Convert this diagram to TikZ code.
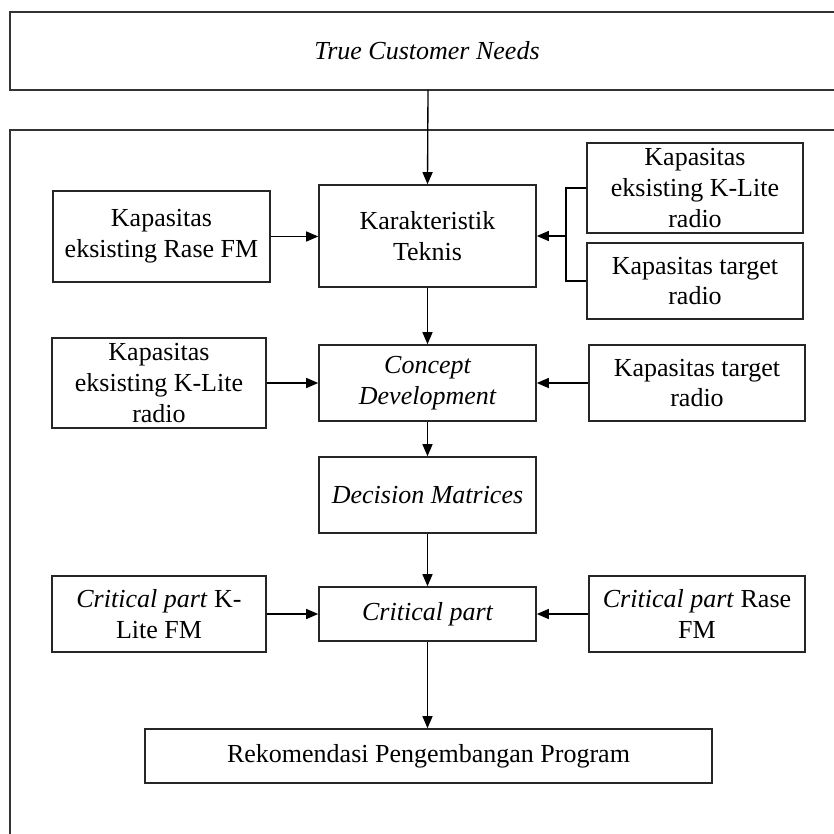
\documentclass[tikz,border=0pt]{standalone}
\usepackage{fontspec}
\setmainfont{Liberation Serif}
\usetikzlibrary{arrows.meta}
\begin{document}
\begin{tikzpicture}[x=0.75pt,y=-0.75pt,
  box/.style={draw=black!85,line width=1.2pt,rectangle,inner sep=0pt,align=center,
    font=\fontsize{19.5}{23}\selectfont},
  conn/.style={line width=1pt,-{Triangle[length=9pt,width=7.5pt]}},
  plain/.style={line width=1pt}]
\useasboundingbox (0,0) rectangle (834,834);
\clip (0,0) rectangle (834,834);
\fill[white] (0,0) rectangle (834,834);
% frames
\draw[draw=black!80,line width=1.4pt] (10,12) rectangle (860,90);
\node[font=\fontsize{19.5}{23}\selectfont\itshape] (tcn) at (427,51) {True Customer Needs};
\coordinate (tcnb) at (428,90);
\draw[draw=black!80,line width=1.4pt] (10,130) rectangle (860,860);
% nodes
\node[box,minimum width=162.75pt,minimum height=76.5pt] (kt) at (427.5,236) {Karakteristik\\Teknis};
\node[box,minimum width=162.75pt,minimum height=68.25pt] (rase) at (161.5,236.5) {Kapasitas\\eksisting Rase FM};
\node[box,minimum width=162pt,minimum height=67.5pt] (kl1) at (695,188) {Kapasitas\\eksisting K-Lite\\radio};
\node[box,minimum width=162pt,minimum height=57pt] (tr1) at (695,281) {Kapasitas target\\radio};
\node[box,minimum width=162.75pt,minimum height=57pt] (cd) at (427.5,383) {\itshape Concept\\\itshape Development};
\node[box,minimum width=160.5pt,minimum height=67.5pt] (kl2) at (159,383) {Kapasitas\\eksisting K-Lite\\radio};
\node[box,minimum width=162pt,minimum height=57pt] (tr2) at (697,383) {Kapasitas target\\radio};
\node[box,minimum width=162.75pt,minimum height=57pt] (dm) at (427.5,495) {\itshape Decision Matrices};
\node[box,minimum width=162.75pt,minimum height=40.5pt] (cp) at (427.5,614) {\itshape Critical part};
\node[box,minimum width=160.5pt,minimum height=57pt] (cpk) at (159,614) {\textit{Critical part} K-\\Lite FM};
\node[box,minimum width=162pt,minimum height=57pt] (cpr) at (697,614) {\textit{Critical part} Rase\\FM};
\node[box,minimum width=425.25pt,minimum height=40.5pt] (rek) at (428.5,756) {Rekomendasi Pengembangan Program};
% bracket
\coordinate (bt) at (566,188);
\coordinate (bb) at (566,281);
\coordinate (bm) at (566,236);
\draw[plain] (kl1.west) -- (bt) -- (bb) -- (tr1.west);
% connectors
\draw[conn] (tcnb) -- (kt.north);
\draw[conn] (rase.east) -- (kt.west |- rase.east);
\draw[conn] (bm) -- (kt.east |- bm);
\draw[conn] (kt.south) -- (cd.north);
\draw[conn] (kl2.east) -- (cd.west);
\draw[conn] (tr2.west) -- (cd.east);
\draw[conn] (cd.south) -- (dm.north);
\draw[conn] (dm.south) -- (cp.north);
\draw[conn] (cpk.east) -- (cp.west);
\draw[conn] (cpr.west) -- (cp.east);
\draw[conn] (cp.south) -- (cp.south |- rek.north);
\end{tikzpicture}
\end{document}
